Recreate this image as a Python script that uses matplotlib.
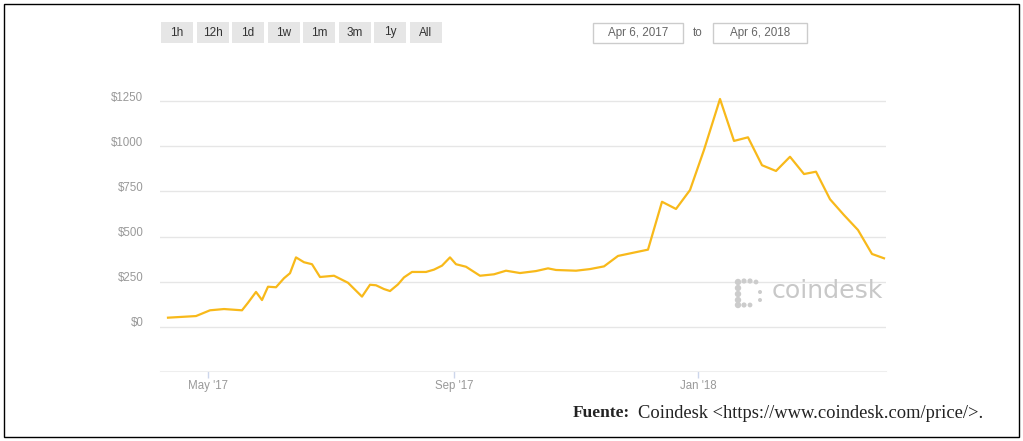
import datetime
import matplotlib
matplotlib.use('Agg')
import matplotlib.pyplot as plt
from matplotlib.patches import Rectangle, Circle
from matplotlib.transforms import ScaledTranslation

# price series (USD)
dates = ['2017-04-11', '2017-04-25', '2017-05-02', '2017-05-09', '2017-05-18',
         '2017-05-21', '2017-05-25', '2017-05-28', '2017-05-31', '2017-06-04',
         '2017-06-08', '2017-06-11', '2017-06-14', '2017-06-18', '2017-06-22',
         '2017-06-26', '2017-07-03', '2017-07-10', '2017-07-17', '2017-07-21',
         '2017-07-24', '2017-07-28', '2017-07-31', '2017-08-04', '2017-08-07',
         '2017-08-11', '2017-08-18', '2017-08-22', '2017-08-26', '2017-08-30',
         '2017-09-02', '2017-09-07', '2017-09-14', '2017-09-21', '2017-09-27',
         '2017-10-04', '2017-10-12', '2017-10-18', '2017-10-22', '2017-11-01',
         '2017-11-08', '2017-11-15', '2017-11-22', '2017-12-07', '2017-12-14',
         '2017-12-21', '2017-12-28', '2018-01-04', '2018-01-12', '2018-01-19',
         '2018-01-26', '2018-02-02', '2018-02-09', '2018-02-16', '2018-02-23',
         '2018-03-01', '2018-03-08', '2018-03-15', '2018-03-22', '2018-03-29',
         '2018-04-04']
prices = [49, 58, 90, 97, 90,
          132, 192, 147, 221, 218,
          268, 296, 384, 357, 346,
          275, 282, 243, 166, 232,
          229, 208, 197, 234, 273,
          303, 303, 316, 338, 384,
          346, 332, 282, 290, 310,
          297, 308, 323, 314, 310,
          319, 334, 392, 427, 693,
          653, 758, 981, 1264, 1031,
          1051, 896, 864, 943, 847,
          860, 707, 619, 536, 403,
          379]

y_ticks = [0, 250, 500, 750, 1000, 1250]
y_tick_labels = ['$0', '$250', '$500', '$750', '$1000', '$1250']
x_ticks = ['2017-05-01', '2017-09-01', '2018-01-01']
x_tick_labels = ["May '17", "Sep '17", "Jan '18"]
range_buttons = ['1h', '12h', '1d', '1w', '1m', '3m', '1y', 'All']
date_from = 'Apr 6, 2017'
date_to = 'Apr 6, 2018'
source_bold = 'Fuente:'
source_text = 'Coindesk <https://www.coindesk.com/price/>.'

W, H = 1023, 441
fig = plt.figure(figsize=(W / 100, H / 100), dpi=100)


def fx(x):
    return x / W


def fy(y):
    # pixel row from the top -> figure fraction
    return 1 - y / H


def to_dt(s):
    return datetime.datetime.strptime(s, '%Y-%m-%d')


# outer frame
fig.add_artist(Rectangle((fx(4), fy(437)), fx(1015), 433 / H, fill=False,
                         edgecolor='black', lw=1, transform=fig.transFigure))

ax = fig.add_axes([fx(160), fy(371), fx(726), 291 / H])
ax.plot([to_dt(d) for d in dates], prices, color='#f8b91a', lw=1.6,
        clip_on=False, zorder=3)

ax.set_xlim(datetime.datetime(2017, 4, 7), datetime.datetime(2018, 4, 5))
ax.set_ylim((326.5 - 371) * 250 / 45, (326.5 - 80) * 250 / 45)

ax.set_yticks(y_ticks)
ax.set_yticklabels(y_tick_labels)
ax.set_xticks([to_dt(d) for d in x_ticks])
ax.set_xticklabels(x_tick_labels)

ax.grid(axis='y', color='#e6e6e6', lw=1)
ax.set_axisbelow(True)
for s in ['top', 'left', 'right']:
    ax.spines[s].set_visible(False)
ax.spines['bottom'].set_color('#eeeeee')
ax.tick_params(axis='y', length=0, pad=12, labelsize=8.3, labelcolor='#999999')
ax.tick_params(axis='x', length=5, width=1, color='#ccd6eb', pad=1.5,
               labelsize=8.3, labelcolor='#999999')
for lab in ax.get_yticklabels():
    lab.set_fontfamily('Liberation Sans')
    lab.set_transform(lab.get_transform() + ScaledTranslation(0, 0.05, fig.dpi_scale_trans))
for lab in ax.get_xticklabels():
    lab.set_fontfamily('Liberation Sans')

# range selector buttons
for i, b in enumerate(range_buttons):
    x0 = 161 + i * 35.5
    fig.add_artist(Rectangle((fx(x0), fy(43)), fx(32), 21 / H, facecolor='#e6e6e6',
                             edgecolor='none', transform=fig.transFigure))
    fig.text(fx(x0 + 16), fy(32.5), b, ha='center', va='center', fontsize=8.5,
             color='#333333', family='Liberation Sans')

# date inputs
for x0, w, label in [(593, 90, date_from), (713, 94, date_to)]:
    fig.add_artist(Rectangle((fx(x0), fy(43)), fx(w), 20 / H, facecolor='white',
                             edgecolor='#cccccc', lw=1, transform=fig.transFigure))
    fig.text(fx(x0 + w / 2), fy(33), label, ha='center', va='center', fontsize=8.4,
             color='#666666', family='Liberation Sans')
fig.text(fx(698), fy(33), 'to', ha='center', va='center', fontsize=8.4,
         color='#666666', family='Liberation Sans')

# coindesk watermark (dots in pixel units, y from top)
logo = '#cccccc'
logo_dots = [(738, 282, 3.2), (744, 281, 2.6), (750, 281, 2.6), (756, 282, 2.4),
             (738, 288, 3.2), (738, 294, 3.2), (738, 300, 3.2), (738, 305, 3.2),
             (744, 305, 2.6), (750, 305, 2.4), (760, 292, 2.0), (760, 300, 2.0)]
for (cx, cy, r) in logo_dots:
    fig.add_artist(Circle((cx / 100, (H - cy) / 100), r / 100, facecolor=logo,
                          edgecolor='none', transform=fig.dpi_scale_trans))
fig.text(fx(772), fy(298), 'coindesk', ha='left', va='baseline', fontsize=18.2,
         color='#c8c8c8', family='DejaVu Sans')

# source line
fig.text(fx(573), fy(413), source_bold, ha='left', va='center', fontsize=12.5,
         fontweight='bold', family='Liberation Serif', color='#222222')
fig.text(fx(638), fy(413), source_text, ha='left', va='center', fontsize=13.3,
         family='Liberation Serif', color='#222222')

fig.savefig('out.png', dpi=100)
